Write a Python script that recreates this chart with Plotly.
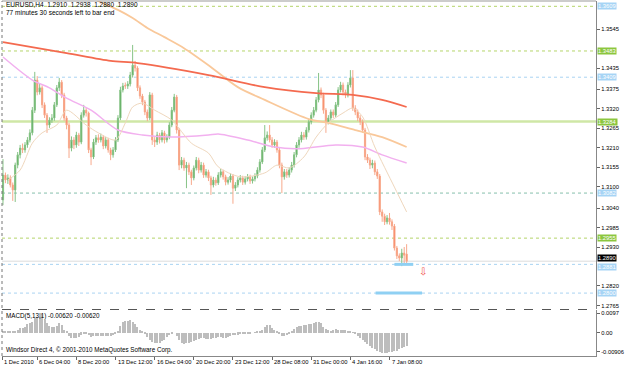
import plotly.graph_objects as go

# ---------------- data (EURUSD H4) ----------------
open_ = [1.3063,1.3133,1.3119,1.3125,1.3105,1.3091,1.3161,1.3190,1.3209,1.3204,
1.3218,1.3232,1.3252,1.3316,1.3401,1.3367,1.3379,1.3331,1.3302,1.3274,
1.3288,1.3294,1.3331,1.3379,1.3395,1.3359,1.3294,1.3274,1.3209,1.3232,
1.3218,1.3246,1.3226,1.3302,1.3316,1.3308,1.3204,1.3184,1.3226,1.3238,
1.3232,1.3240,1.3215,1.3232,1.3204,1.3190,1.3204,1.3232,1.3294,1.3373,
1.3386,1.3384,1.3390,1.3415,1.3443,1.3435,1.3379,1.3356,1.3339,1.3311,
1.3294,1.3359,1.3232,1.3226,1.3246,1.3232,1.3252,1.3232,1.3240,1.3274,
1.3316,1.3353,1.3260,1.3161,1.3175,1.3153,1.3161,1.3142,1.3125,1.3153,
1.3175,1.3147,1.3161,1.3133,1.3142,1.3125,1.3105,1.3119,1.3111,1.3133,
1.3142,1.3128,1.3113,1.3119,1.3130,1.3096,1.3105,1.3119,1.3125,1.3113,
1.3122,1.3128,1.3116,1.3122,1.3130,1.3147,1.3170,1.3204,1.3238,1.3246,
1.3232,1.3218,1.3226,1.3204,1.3161,1.3128,1.3142,1.3133,1.3147,1.3161,
1.3190,1.3218,1.3232,1.3246,1.3240,1.3260,1.3283,1.3302,1.3316,1.3345,
1.3373,1.3359,1.3316,1.3283,1.3294,1.3311,1.3302,1.3331,1.3373,1.3387,
1.3367,1.3359,1.3387,1.3407,1.3322,1.3311,1.3294,1.3283,1.3260,1.3184,
1.3175,1.3161,1.3167,1.3142,1.3130,1.3029,1.3017,1.3001,1.3012,1.3001,
1.2989,1.2927,1.2905,1.2899,1.2913,1.2910]
high = [1.3178,1.3140,1.3135,1.3132,1.3112,1.3168,1.3198,1.3218,1.3222,1.3226,
1.3240,1.3262,1.3325,1.3424,1.3412,1.3392,1.3386,1.3338,1.3308,1.3296,
1.3305,1.3339,1.3387,1.3407,1.3401,1.3365,1.3300,1.3280,1.3242,1.3240,
1.3255,1.3252,1.3310,1.3331,1.3322,1.3312,1.3210,1.3235,1.3246,1.3248,
1.3250,1.3246,1.3240,1.3238,1.3210,1.3212,1.3240,1.3302,1.3382,1.3393,
1.3394,1.3398,1.3424,1.3500,1.3455,1.3440,1.3386,1.3362,1.3345,1.3318,
1.3367,1.3365,1.3240,1.3255,1.3252,1.3260,1.3258,1.3248,1.3282,1.3325,
1.3362,1.3359,1.3266,1.3184,1.3182,1.3170,1.3168,1.3148,1.3160,1.3184,
1.3182,1.3170,1.3168,1.3150,1.3148,1.3131,1.3128,1.3126,1.3141,1.3150,
1.3148,1.3134,1.3127,1.3138,1.3136,1.3113,1.3127,1.3133,1.3131,1.3130,
1.3136,1.3134,1.3129,1.3138,1.3155,1.3178,1.3212,1.3274,1.3256,1.3274,
1.3240,1.3234,1.3232,1.3210,1.3168,1.3150,1.3150,1.3155,1.3170,1.3198,
1.3226,1.3240,1.3255,1.3254,1.3268,1.3291,1.3310,1.3325,1.3353,1.3421,
1.3380,1.3365,1.3322,1.3302,1.3318,1.3318,1.3339,1.3381,1.3396,1.3394,
1.3374,1.3395,1.3429,1.3429,1.3330,1.3318,1.3302,1.3290,1.3266,1.3192,
1.3182,1.3176,1.3174,1.3150,1.3136,1.3036,1.3024,1.3020,1.3026,1.3008,
1.2995,1.2933,1.2912,1.2925,1.2930,1.2938]
low = [1.3048,1.3110,1.3108,1.3098,1.3060,1.3057,1.3152,1.3180,1.3195,1.3196,
1.3210,1.3225,1.3245,1.3308,1.3358,1.3360,1.3322,1.3294,1.3252,1.3266,
1.3280,1.3286,1.3325,1.3370,1.3350,1.3286,1.3262,1.3181,1.3200,1.3206,
1.3210,1.3215,1.3220,1.3295,1.3298,1.3195,1.3161,1.3178,1.3218,1.3224,
1.3225,1.3206,1.3208,1.3196,1.3175,1.3182,1.3198,1.3226,1.3288,1.3366,
1.3376,1.3376,1.3383,1.3408,1.3425,1.3370,1.3348,1.3330,1.3302,1.3285,
1.3288,1.3218,1.3212,1.3218,1.3222,1.3225,1.3222,1.3225,1.3234,1.3268,
1.3310,1.3250,1.3147,1.3152,1.3145,1.3096,1.3133,1.3105,1.3118,1.3146,
1.3138,1.3140,1.3125,1.3126,1.3116,1.3077,1.3098,1.3103,1.3105,1.3126,
1.3120,1.3104,1.3106,1.3112,1.3052,1.3088,1.3098,1.3112,1.3105,1.3106,
1.3115,1.3108,1.3109,1.3115,1.3124,1.3140,1.3164,1.3198,1.3230,1.3225,
1.3210,1.3210,1.3196,1.3152,1.3082,1.3120,1.3125,1.3126,1.3140,1.3154,
1.3183,1.3210,1.3225,1.3232,1.3233,1.3253,1.3276,1.3295,1.3310,1.3338,
1.3350,1.3306,1.3252,1.3276,1.3287,1.3294,1.3296,1.3325,1.3366,1.3358,
1.3350,1.3352,1.3380,1.3314,1.3302,1.3285,1.3274,1.3252,1.3175,1.3167,
1.3150,1.3152,1.3133,1.3122,1.3020,1.3001,1.2992,1.2994,1.2993,1.2978,
1.2920,1.2896,1.2890,1.2876,1.2880,1.2880]
close = [1.3133,1.3119,1.3125,1.3105,1.3091,1.3161,1.3190,1.3209,1.3204,1.3218,
1.3232,1.3252,1.3316,1.3401,1.3367,1.3379,1.3331,1.3302,1.3274,1.3288,
1.3294,1.3331,1.3379,1.3395,1.3359,1.3294,1.3274,1.3209,1.3232,1.3218,
1.3246,1.3226,1.3302,1.3316,1.3308,1.3204,1.3184,1.3226,1.3238,1.3232,
1.3240,1.3215,1.3232,1.3204,1.3190,1.3204,1.3232,1.3294,1.3373,1.3384,
1.3384,1.3390,1.3415,1.3443,1.3435,1.3379,1.3356,1.3339,1.3311,1.3294,
1.3359,1.3232,1.3226,1.3246,1.3232,1.3252,1.3232,1.3240,1.3274,1.3316,
1.3353,1.3260,1.3161,1.3175,1.3153,1.3161,1.3142,1.3125,1.3153,1.3175,
1.3147,1.3161,1.3133,1.3142,1.3125,1.3105,1.3119,1.3111,1.3133,1.3142,
1.3128,1.3113,1.3119,1.3130,1.3096,1.3105,1.3119,1.3125,1.3113,1.3122,
1.3128,1.3116,1.3122,1.3130,1.3147,1.3170,1.3204,1.3238,1.3246,1.3232,
1.3218,1.3226,1.3204,1.3161,1.3128,1.3142,1.3133,1.3147,1.3161,1.3190,
1.3218,1.3232,1.3246,1.3240,1.3260,1.3283,1.3302,1.3316,1.3345,1.3373,
1.3359,1.3316,1.3283,1.3294,1.3311,1.3302,1.3331,1.3373,1.3387,1.3367,
1.3359,1.3387,1.3407,1.3322,1.3311,1.3294,1.3283,1.3260,1.3184,1.3175,
1.3161,1.3167,1.3142,1.3130,1.3029,1.3017,1.3001,1.3012,1.3001,1.2989,
1.2927,1.2905,1.2899,1.2913,1.2907,1.2890]
macd = [0.0005,0.0006,0.0008,0.0007,0.0010,0.0012,0.0015,
0.0024,0.0026,0.0030, 0.0042,0.0048,0.0055, 0.0073,0.0080, 0.0097,0.0090,
0.0065,0.0050, 0.0035,0.0030,0.0028,0.0032, 0.0048,0.0040, 0.0015,0.0005,
-0.0015,-0.0026,-0.0025,-0.0022,-0.0018, -0.0008,-0.0005,-0.0007,-0.0012,
-0.0018,-0.0015,-0.0014,-0.0013,-0.0014,-0.0015,-0.0015,-0.0016,-0.0017,
-0.0012,-0.0005,0.0008, 0.0035,0.0053,0.0058,0.0060,0.0062,
0.0055,0.0043,0.0030, 0.0015,0.0005, -0.0005,-0.0020,
-0.0035,-0.0045,-0.0050,-0.0050,-0.0048,-0.0040,-0.0035,
-0.0020,-0.0010,-0.0005,0.0000, -0.0015,-0.0035,
-0.0050,-0.0052,-0.0050,-0.0048,-0.0045,-0.0040,-0.0035,-0.0030,
-0.0025,-0.0026,-0.0028,-0.0027,-0.0028,-0.0025,-0.0022,-0.0020,-0.0020,-0.0022,-0.0024,
-0.0018,-0.0015,-0.0012,-0.0010,-0.0008,-0.0006,-0.0005,-0.0003,-0.0004,
-0.0002,0.0000,0.0003,0.0005,0.0008,0.0015,
0.0030,0.0040,0.0038,0.0025, 0.0015,0.0008,-0.0005,-0.0015,
-0.0015,-0.0012,-0.0006, 0.0008,0.0020,0.0030,0.0035,0.0036,0.0038,
0.0040,0.0042,0.0045, 0.0050,0.0053,0.0053,0.0048, 0.0030,0.0020,0.0015,
0.0012,0.0015,0.0018,0.0015,0.0015,0.0014,0.0016,0.0012, 0.0010,0.0003,
-0.0005,-0.0015,-0.0025,-0.0035, -0.0045,-0.0055,-0.0065,
-0.0075,-0.0080,-0.0085,-0.0092,-0.0095,-0.0098,
-0.0095,-0.0092,-0.0090,-0.0088, -0.0085,-0.0080,-0.0075,-0.0070,-0.0062]

ma_red_idx = [0, 26, 44, 55, 84, 107, 128, 143, 155, 165]
ma_red = [1.3508, 1.3477, 1.3455, 1.3449, 1.3415, 1.3381, 1.3364, 1.3359, 1.3345, 1.3325]
ma_orange_idx = [28, 38, 47, 53, 59, 66, 74, 84, 96, 107, 125, 133, 144, 155, 165]
ma_orange = [1.3661, 1.3627, 1.3599, 1.3576, 1.3548, 1.3522, 1.3491, 1.3443, 1.3381,
             1.3345, 1.3291, 1.3280, 1.3260, 1.3240, 1.3212]
ma_pink_idx = [0, 12, 19, 26, 36, 47, 57, 69, 84, 88, 100, 111, 120, 136, 147, 155, 165]
ma_pink = [1.3466, 1.3401, 1.3379, 1.3350, 1.3316, 1.3260, 1.3246, 1.3240, 1.3246, 1.3249,
           1.3232, 1.3212, 1.3207, 1.3218, 1.3212, 1.3190, 1.3167]
ma_thin_idx = [2, 7, 12, 16, 22, 26, 34, 39, 46, 50, 53, 57, 62, 69, 77, 84, 88, 97, 107,
               112, 117, 123, 128, 133, 139, 143, 147, 152, 160, 165]
ma_thin = [1.3119, 1.3147, 1.3223, 1.3252, 1.3274, 1.3316, 1.3274, 1.3252, 1.3232, 1.3280,
           1.3325, 1.3336, 1.3316, 1.3288, 1.3223, 1.3195, 1.3156, 1.3128, 1.3139, 1.3161,
           1.3153, 1.3184, 1.3240, 1.3280, 1.3308, 1.3322, 1.3297, 1.3212, 1.3099, 1.3029]

tick_prices = [1.3545, 1.3435, 1.3375, 1.3320, 1.3265, 1.3210, 1.3155, 1.3100,
               1.3040, 1.2985, 1.2930, 1.2820, 1.2765]
level_prices = [1.3609, 1.3483, 1.3409, 1.3284, 1.3082, 1.3082, 1.2955, 1.2881, 1.2800]
level_kind = ["green", "green", "blue", "greensolid", "green", "blue", "green", "blue", "blue"]
label_prices = [1.3609, 1.3483, 1.3409, 1.3284, 1.3082, 1.2955, 1.2881, 1.2800]
label_kind = ["blue", "green", "blue", "green", "blue", "green", "blue", "blue"]
bid_price = 1.2890
seg_price = [1.2881, 1.2800]
seg_start = [160, 152.3]
seg_end = [167.7, 171.3]
arrow_idx, arrow_price = 171.7, 1.2862

xtick_idx = [0, 14, 30, 46, 62, 78, 94, 110, 126, 142, 158]
xtick_text = ["1 Dec 2010", "6 Dec 04:00", "8 Dec 20:00", "13 Dec 12:00", "16 Dec 04:00",
              "20 Dec 20:00", "23 Dec 12:00", "28 Dec 08:00", "31 Dec 00:00",
              "4 Jan 16:00", "7 Jan 08:00"]
macd_ticks = [0.0097, 0.0, -0.00906]
macd_ticktext = ["0.0097", "0.00", "-0.00906"]

assert len(open_) == len(high) == len(low) == len(close) == len(macd) == 166
idx = list(range(len(close)))

FONT = "Liberation Sans"
AX = 5.8
GREEN_C = "#b5d56a"
BLUE_C = "#a9d3f2"

fig = go.Figure()

for xs, ys, col, w in [(ma_pink_idx, ma_pink, "#f2b0ef", 1.5),
                       (ma_orange_idx, ma_orange, "#f9c89a", 1.8),
                       (ma_red_idx, ma_red, "#f46a4f", 1.8),
                       (ma_thin_idx, ma_thin, "#efd7bd", 1)]:
    fig.add_trace(go.Scatter(x=xs, y=ys, mode="lines", line=dict(color=col, width=w, shape="spline", smoothing=0.8),
                             hoverinfo="skip", showlegend=False, yaxis="y", cliponaxis=True))

fig.add_trace(go.Candlestick(
    x=idx, open=open_, high=high, low=low, close=close,
    increasing=dict(line=dict(color="#86c386", width=1), fillcolor="#3d9a3d"),
    decreasing=dict(line=dict(color="#f7a98c", width=1), fillcolor="#fb6a3f"),
    whiskerwidth=0, showlegend=False, yaxis="y"))

fig.add_trace(go.Bar(x=idx, y=macd, marker=dict(color="#bdbdbd", line=dict(width=0)),
                     width=0.45, yaxis="y2", showlegend=False, hoverinfo="skip"))

shapes = []
for p, k in zip(level_prices, level_kind):
    if k == "greensolid":
        shapes.append(dict(type="line", xref="paper", x0=0, x1=1, yref="y", y0=p, y1=p,
                           line=dict(color="#cfe7a6", width=2.5), layer="below"))
    else:
        shapes.append(dict(type="line", xref="paper", x0=0, x1=1, yref="y", y0=p, y1=p,
                           line=dict(color=GREEN_C if k == "green" else BLUE_C, width=1, dash="dot"),
                           layer="below"))
shapes.append(dict(type="line", xref="paper", x0=0, x1=1, yref="y", y0=bid_price, y1=bid_price,
                   line=dict(color="#dcdcdc", width=1), layer="below"))
for p, a, b in zip(seg_price, seg_start, seg_end):
    shapes.append(dict(type="line", xref="x", x0=a, x1=b, yref="y", y0=p, y1=p,
                       line=dict(color="#8fd0f3", width=3), layer="above"))
# pane separator and frame
sep_y = (356 - 309.5) / 355
shapes.append(dict(type="line", xref="paper", yref="paper", x0=0, x1=1, y0=sep_y, y1=sep_y,
                   line=dict(color="#555555", width=1, dash="dash")))
shapes.append(dict(type="line", xref="paper", yref="paper", x0=0, x1=0, y0=0, y1=1,
                   line=dict(color="#777777", width=1, dash="dot")))
shapes.append(dict(type="line", xref="paper", yref="paper", x0=0, x1=1, y0=1, y1=1,
                   line=dict(color="#999999", width=1)))

ann = []
ann.append(dict(xref="paper", yref="paper", x=0.004, y=(356 - 5) / 355, xanchor="left", yanchor="middle",
                text="EURUSD,H4  1.2910  1.2938  1.2880  1.2890", showarrow=False,
                font=dict(family=FONT, size=6.5, color="black")))
ann.append(dict(xref="paper", yref="paper", x=0.004, y=(356 - 13) / 355, xanchor="left", yanchor="middle",
                text="77 minutes 30 seconds left to bar end", showarrow=False,
                font=dict(family=FONT, size=6.5, color="black")))
ann.append(dict(xref="paper", yref="paper", x=0.004, y=(356 - 316) / 355, xanchor="left", yanchor="middle",
                text="MACD(5,13,1) -0.00620 -0.00620", showarrow=False,
                font=dict(family=FONT, size=6.3, color="black")))
ann.append(dict(xref="paper", yref="paper", x=0.004, y=(356 - 350) / 355, xanchor="left", yanchor="middle",
                text="Windsor Direct 4, © 2001-2010 MetaQuotes Software Corp.", showarrow=False,
                font=dict(family=FONT, size=6.3, color="black")))
label_shift = {1.2881: -2.5}
for p, k in zip(label_prices, label_kind):
    ann.append(dict(xref="paper", yref="y", x=1 + 1.5 / 601, y=p, xanchor="left", yanchor="middle",
                    text=f"{p:.4f}", showarrow=False, bgcolor=("#8cc63f" if k == "green" else "#a6d4f5"),
                    borderpad=0, yshift=label_shift.get(p, 0),
                    font=dict(family=FONT, size=AX, color="white")))
ann.append(dict(xref="paper", yref="y", x=1 + 1.5 / 601, y=bid_price, xanchor="left", yanchor="middle",
                text=f"{bid_price:.4f}", showarrow=False, bgcolor="black", borderpad=0, yshift=3,
                font=dict(family=FONT, size=AX, color="white")))
for i, t in zip(xtick_idx, xtick_text):
    ann.append(dict(xref="x", yref="paper", x=i, y=(356 - 362) / 355, xanchor="left", yanchor="middle",
                    text=t, showarrow=False, xshift=0 if i else -1,
                    font=dict(family=FONT, size=AX, color="black")))
ann.append(dict(xref="x", yref="y", x=arrow_idx, y=arrow_price, text="⇩", showarrow=False,
                font=dict(family="DejaVu Sans", size=10, color="#f0524a")))

fig.update_layout(
    width=625, height=368,
    margin=dict(l=2, r=22, t=1, b=12),
    paper_bgcolor="white", plot_bgcolor="white",
    showlegend=False, bargap=0,
    shapes=shapes, annotations=ann,
    font=dict(family=FONT, size=AX, color="black"),
    xaxis=dict(range=[-0.4, 242.4], anchor="y2", showgrid=False, zeroline=False,
               rangeslider=dict(visible=False), tickvals=xtick_idx, ticks="outside", ticklen=3,
               tickcolor="#666666", showticklabels=False, showline=True, linecolor="#888888",
               linewidth=1),
    yaxis=dict(domain=[(356 - 309) / 355, 1], range=[1.27551, 1.36240], side="right", anchor="x",
               showgrid=False, zeroline=False, tickvals=tick_prices,
               ticktext=[f"{v:.4f}" for v in tick_prices], ticks="outside", ticklen=3,
               tickcolor="#666666", showline=True, linecolor="#888888", linewidth=1,
               tickfont=dict(family=FONT, size=AX, color="black")),
    yaxis2=dict(domain=[0, (356 - 310) / 355], range=[-0.01117, 0.01116], side="right", anchor="x",
                showgrid=False, zeroline=False, tickvals=macd_ticks, ticktext=macd_ticktext,
                ticks="outside", ticklen=3, tickcolor="#666666", showline=True,
                linecolor="#888888", linewidth=1,
                tickfont=dict(family=FONT, size=AX, color="black")),
)

fig.write_html("out.html")
